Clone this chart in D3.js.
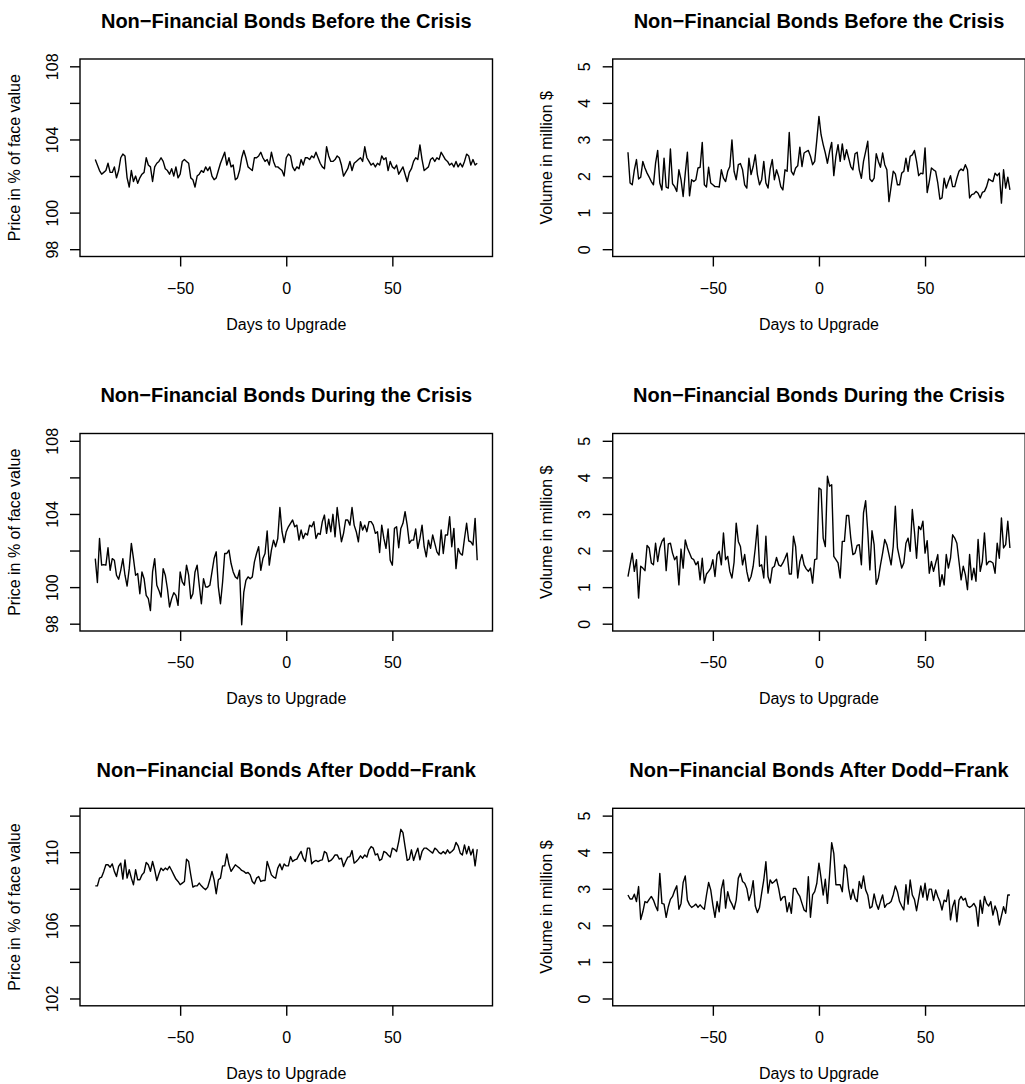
<!DOCTYPE html>
<html>
<head>
<meta charset="utf-8">
<script src="https://cdn.jsdelivr.net/npm/d3@7"></script>
<style>
  body { margin: 0; background: #fff; }
  svg { display: block; }
  text { font-family: "Liberation Sans", Arial, Helvetica, sans-serif; fill: #000; }
</style>
</head>
<body>
<svg width="1025" height="1084"></svg>
<script>
// days relative to the upgrade
const days = d3.range(-90, 91);

// price, before the crisis
const priceBefore = [
  102.9, 102.6, 102.3, 102.1, 102.2, 102.3, 102.7, 102.2, 102.2, 102.5,
  101.9, 102.3, 103.0, 103.2, 103.1, 101.9, 101.4, 102.3, 101.7, 102.0,
  101.6, 101.9, 102.1, 102.2, 103.0, 102.6, 102.5, 101.7, 102.5, 102.7,
  102.8, 103.0, 102.8, 102.4, 102.3, 102.1, 102.4, 102.0, 102.5, 101.9,
  102.1, 102.8, 102.9, 102.8, 102.7, 101.9, 101.8, 101.4, 102.0, 102.1,
  102.3, 102.2, 102.5, 102.3, 102.5, 102.0, 101.8, 101.9, 102.3, 102.7,
  103.0, 103.3, 102.6, 103.0, 102.5, 102.6, 101.8, 101.9, 102.3, 103.0,
  103.4, 103.0, 102.5, 102.4, 102.3, 103.0, 103.0, 103.1, 103.3, 103.0,
  102.8, 102.9, 102.6, 103.3, 102.8, 102.5, 102.5, 102.4, 102.3, 102.0,
  103.0, 103.2, 103.1, 102.5, 102.3, 102.5, 102.4, 102.9, 102.6, 103.0,
  103.0, 102.9, 103.1, 103.0, 103.3, 103.0, 102.7, 102.5, 102.4, 103.6,
  103.1, 102.8, 102.8, 102.9, 103.1, 103.0, 102.6, 102.0, 102.2, 102.4,
  102.8, 102.3, 102.7, 102.8, 102.9, 103.0, 102.8, 103.6, 103.0, 102.8,
  102.6, 102.7, 102.5, 102.7, 102.6, 103.1, 102.9, 103.0, 102.3, 102.8,
  102.5, 102.4, 102.6, 102.1, 102.3, 102.5, 102.1, 101.7, 102.2, 102.4,
  102.8, 103.0, 102.9, 103.7, 102.9, 102.3, 102.4, 102.5, 102.9, 103.0,
  102.8, 103.0, 102.9, 103.3, 103.1, 102.9, 102.8, 102.6, 102.7, 102.5,
  102.8, 102.5, 102.7, 102.5, 102.8, 103.2, 103.1, 102.6, 102.9, 102.6, 102.7
];

// volume, before the crisis
const volBefore = [
  2.65, 1.81, 1.76, 2.17, 2.45, 1.92, 1.97, 2.40, 2.22, 2.08,
  1.97, 1.85, 1.76, 2.35, 2.70, 1.81, 1.62, 2.49, 1.70, 1.67,
  2.74, 1.79, 1.71, 1.58, 2.17, 1.90, 1.44, 2.08, 2.65, 1.46,
  1.90, 1.85, 1.90, 2.22, 2.24, 2.92, 1.76, 1.70, 2.24, 1.81,
  1.76, 1.71, 1.71, 1.70, 2.17, 1.94, 1.85, 2.13, 2.26, 2.99,
  2.13, 1.90, 2.31, 2.34, 2.17, 1.76, 1.67, 2.49, 2.04, 2.26,
  2.58, 2.04, 1.76, 1.90, 2.40, 1.81, 1.67, 2.19, 2.45, 1.90,
  2.17, 1.99, 1.71, 1.62, 2.17, 2.13, 3.19, 2.13, 2.03, 2.22,
  2.28, 2.79, 2.26, 2.63, 2.67, 2.70, 2.54, 2.31, 2.40, 2.99,
  3.63, 3.13, 2.86, 2.63, 2.35, 2.67, 2.92, 2.01, 2.54, 2.86,
  2.40, 2.88, 2.45, 2.72, 2.49, 2.26, 2.17, 2.61, 2.65, 2.17,
  1.94, 2.40, 2.67, 2.95, 1.92, 1.85, 1.94, 2.61, 2.40, 2.24,
  2.63, 2.31, 2.17, 1.30, 1.71, 2.13, 2.06, 1.76, 1.76, 2.08,
  2.13, 2.49, 2.13, 2.54, 2.58, 2.70, 2.40, 2.01, 2.08, 2.06,
  2.77, 1.55, 1.85, 2.22, 2.17, 2.13, 1.81, 1.37, 1.40, 1.94,
  1.67, 1.85, 2.01, 1.71, 1.71, 1.94, 2.13, 2.19, 2.15, 2.31,
  2.17, 1.40, 1.49, 1.51, 1.58, 1.53, 1.40, 1.55, 1.58, 1.71,
  1.92, 1.88, 1.85, 2.08, 2.01, 2.08, 1.26, 2.17, 1.67, 1.97, 1.62
];

// price, during the crisis
const priceDuring = [
  101.56, 100.25, 102.66, 101.20, 101.23, 101.20, 102.15, 100.92, 101.56, 101.47,
  100.65, 100.43, 100.92, 101.56, 100.65, 100.06, 101.01, 102.39, 101.56, 100.65,
  100.74, 99.64, 100.83, 100.46, 99.55, 99.37, 98.72, 100.83, 101.56, 100.10,
  99.82, 99.46, 101.01, 100.65, 99.91, 98.91, 99.37, 99.69, 99.55, 99.00,
  100.83, 100.28, 100.10, 101.20, 100.65, 99.37, 99.64, 100.83, 101.20, 100.10,
  99.09, 100.46, 100.01, 100.01, 100.10, 100.83, 101.56, 101.93, 100.01, 99.09,
  100.28, 101.84, 101.84, 102.02, 101.29, 100.83, 100.56, 100.46, 100.92, 97.94,
  99.73, 100.37, 100.56, 100.46, 100.56, 101.38, 101.84, 102.21, 100.92, 101.56,
  101.84, 103.07, 101.20, 102.02, 102.57, 102.21, 102.66, 104.35, 103.03, 102.44,
  103.03, 103.30, 103.49, 103.67, 103.30, 103.39, 102.57, 103.12, 102.66, 102.94,
  102.85, 103.39, 103.30, 103.58, 102.66, 102.94, 102.88, 103.58, 103.94, 102.94,
  103.72, 103.03, 103.98, 102.75, 104.35, 103.39, 102.48, 102.94, 103.67, 103.67,
  103.39, 104.35, 103.39, 103.03, 102.48, 103.58, 103.12, 103.39, 103.03, 103.58,
  103.58, 103.39, 102.94, 103.03, 101.89, 103.39, 102.66, 102.12, 103.18, 101.47,
  101.20, 103.21, 103.30, 102.15, 103.21, 103.49, 104.13, 103.39, 102.39, 102.57,
  102.57, 103.18, 102.12, 102.66, 103.39, 102.21, 101.66, 102.57, 102.12, 102.85,
  102.39, 101.93, 101.75, 103.12, 101.84, 102.85, 102.85, 103.85, 102.21, 103.21,
  101.01, 102.12, 101.84, 101.75, 102.66, 103.49, 102.52, 102.48, 102.30, 103.76, 101.47
];

// volume, during the crisis
const volDuring = [
  1.29, 1.61, 1.93, 1.43, 1.75, 0.70, 1.57, 1.52, 1.45, 2.14,
  2.07, 1.66, 1.61, 2.20, 1.70, 2.07, 2.25, 2.34, 1.45, 2.18,
  2.20, 1.93, 1.75, 1.84, 1.06, 2.04, 1.52, 2.29, 2.07, 1.93,
  1.79, 1.75, 1.61, 1.70, 1.20, 1.79, 1.11, 1.36, 1.43, 1.52,
  1.75, 1.29, 1.89, 1.98, 1.61, 2.48, 1.75, 1.84, 1.43, 1.25,
  1.68, 2.75, 2.25, 2.11, 1.61, 1.89, 1.43, 1.16, 1.29, 1.57,
  2.07, 2.69, 1.57, 1.61, 1.25, 2.39, 1.29, 1.11, 1.52, 1.57,
  1.81, 1.61, 1.57, 1.66, 1.79, 1.93, 1.36, 1.36, 2.39, 2.11,
  1.25, 1.70, 1.89, 1.61, 1.50, 1.43, 1.52, 1.11, 1.75, 1.77,
  3.71, 3.67, 2.34, 2.11, 4.03, 3.76, 3.80, 1.84, 1.75, 1.66,
  1.25, 2.25, 2.25, 2.96, 2.96, 2.34, 1.89, 1.93, 2.14, 2.16,
  1.61, 3.03, 3.36, 2.52, 1.47, 2.54, 2.16, 1.08, 1.25, 1.61,
  1.93, 2.30, 2.16, 1.89, 1.61, 2.11, 3.21, 2.07, 1.79, 1.52,
  1.66, 2.20, 2.34, 1.98, 3.12, 2.52, 1.79, 2.66, 2.57, 2.80,
  1.93, 2.27, 1.38, 1.70, 1.43, 1.66, 1.89, 1.02, 1.34, 1.06,
  1.89, 1.52, 1.79, 2.43, 2.34, 2.20, 1.70, 1.20, 1.57, 1.34,
  0.93, 1.89, 1.20, 1.52, 1.16, 2.30, 1.43, 1.70, 2.48, 1.61,
  1.70, 1.70, 1.66, 1.38, 2.20, 1.79, 2.89, 2.07, 2.16, 2.80, 2.07
];

// price, after Dodd-Frank
const priceAfter = [
  108.16, 108.16, 108.58, 108.64, 108.95, 109.31, 109.31, 109.18, 109.36, 108.95,
  108.67, 109.22, 109.40, 108.53, 109.58, 108.58, 109.04, 108.58, 108.22, 109.04,
  108.49, 108.49, 108.76, 108.89, 109.44, 109.31, 108.95, 109.49, 109.04, 108.45,
  108.82, 109.13, 109.00, 109.13, 109.04, 109.22, 109.00, 108.76, 108.53, 108.40,
  108.22, 108.31, 108.40, 109.62, 109.49, 108.76, 108.09, 108.16, 108.16, 108.31,
  108.16, 108.04, 107.95, 108.09, 108.49, 108.95, 108.49, 107.73, 108.49, 108.58,
  109.25, 109.25, 109.91, 109.31, 108.95, 109.13, 109.31, 109.22, 109.13, 109.00,
  108.95, 108.85, 108.89, 108.76, 108.40, 108.27, 108.58, 108.67, 108.40, 108.45,
  108.45, 109.49, 109.13, 108.76, 108.64, 108.58, 109.13, 109.36, 109.04, 109.36,
  109.25, 109.25, 109.76, 109.49, 109.58, 109.62, 109.85, 110.04, 109.67, 109.49,
  110.22, 110.22, 109.36, 109.49, 109.55, 109.49, 109.55, 109.58, 110.04, 109.95,
  109.49, 109.55, 109.67, 109.85, 109.85, 109.62, 109.67, 109.22, 109.49, 109.73,
  109.76, 110.09, 109.40, 109.49, 109.62, 109.80, 109.67, 109.85, 109.73, 110.13,
  110.31, 110.22, 109.85, 109.91, 109.55, 109.62, 110.04, 109.98, 109.85, 109.73,
  110.22, 110.16, 110.04, 110.58, 111.25, 111.07, 110.31, 109.55, 109.62, 110.13,
  109.55, 109.91, 110.22, 109.58, 110.04, 110.22, 110.22, 110.13, 110.04, 109.95,
  110.22, 110.13, 109.98, 109.91, 110.04, 109.91, 110.13, 109.95, 110.04, 110.16,
  110.53, 110.35, 109.95, 109.85, 110.40, 109.91, 110.31, 109.85, 110.16, 109.25, 110.16
];

// volume, after Dodd-Frank
const volAfter = [
  2.83, 2.72, 2.72, 2.85, 2.65, 3.06, 2.16, 2.37, 2.65, 2.62,
  2.71, 2.79, 2.69, 2.53, 2.40, 3.42, 2.60, 2.58, 2.22, 2.51,
  2.71, 2.79, 2.95, 3.08, 2.44, 2.60, 3.17, 3.35, 2.69, 2.56,
  2.49, 2.53, 2.58, 2.49, 2.56, 2.49, 2.44, 2.83, 3.17, 2.97,
  2.56, 2.22, 2.65, 2.37, 2.99, 3.24, 2.47, 2.92, 2.69, 2.58,
  2.44, 2.69, 3.29, 3.42, 3.20, 3.15, 3.01, 2.68, 2.86, 3.22,
  2.53, 2.35, 2.49, 2.88, 3.24, 3.74, 2.88, 3.24, 3.15, 3.20,
  3.26, 3.01, 2.68, 2.77, 2.79, 2.37, 2.62, 2.33, 3.01, 3.01,
  2.88, 2.79, 2.60, 2.42, 2.37, 3.33, 2.22, 2.83, 2.92, 3.15,
  3.70, 3.29, 2.83, 3.26, 2.60, 3.38, 4.26, 3.97, 3.11, 3.11,
  3.11, 2.92, 3.65, 3.56, 3.01, 2.71, 2.99, 2.74, 2.65, 3.20,
  3.01, 3.35, 2.97, 2.83, 2.47, 2.51, 2.86, 2.60, 2.44, 2.65,
  2.83, 2.49, 2.58, 2.60, 2.65, 2.83, 3.08, 2.92, 2.65, 2.53,
  2.42, 3.11, 2.58, 3.24, 2.83, 2.71, 2.40, 2.74, 3.08, 2.77,
  3.15, 2.69, 2.99, 2.99, 2.68, 2.97, 2.79, 2.65, 2.42, 2.69,
  2.65, 2.97, 2.15, 2.51, 2.69, 2.10, 2.69, 2.79, 2.69, 2.74,
  2.53, 2.49, 2.53, 2.60, 2.49, 1.98, 2.69, 2.33, 2.79, 2.60,
  2.53, 2.65, 2.28, 2.53, 2.37, 2.01, 2.26, 2.51, 2.33, 2.83, 2.83
];

const periods = ["Before the Crisis", "During the Crisis", "After Dodd\u2212Frank"];
const dayTicks = [-50, 0, 50];
const priceTicksEarly = [98, 100, 102, 104, 106, 108];
const priceLabelsEarly = [98, 100, 104, 108];
const priceTicksLate = [102, 104, 106, 108, 110, 112];
const priceLabelsLate = [102, 106, 110];
const volTicks = [0, 1, 2, 3, 4, 5];

const svg = d3.select("svg");

const colLeft = [80, 612.7];
const plotW = 412.5;
const rowTop = [59, 433.5, 808.3];
const plotH = 197.5;

// R pads the axis limits by 4%
function pad(lo, hi) {
  const d = (hi - lo) * 0.04;
  return [lo - d, hi + d];
}

const panels = [
  { row: 0, col: 0, values: priceBefore, lim: [98, 108], ticks: priceTicksEarly, labels: priceLabelsEarly, ylab: "Price in % of face value" },
  { row: 0, col: 1, values: volBefore, lim: [0, 5], ticks: volTicks, labels: volTicks, ylab: "Volume in million $" },
  { row: 1, col: 0, values: priceDuring, lim: [98, 108], ticks: priceTicksEarly, labels: priceLabelsEarly, ylab: "Price in % of face value" },
  { row: 1, col: 1, values: volDuring, lim: [0, 5], ticks: volTicks, labels: volTicks, ylab: "Volume in million $" },
  { row: 2, col: 0, values: priceAfter, lim: [102, 112], ticks: priceTicksLate, labels: priceLabelsLate, ylab: "Price in % of face value" },
  { row: 2, col: 1, values: volAfter, lim: [0, 5], ticks: volTicks, labels: volTicks, ylab: "Volume in million $" }
];

panels.forEach(p => {
  const left = colLeft[p.col], top = rowTop[p.row];
  const x = d3.scaleLinear().domain(pad(-90, 90)).range([left, left + plotW]);
  const y = d3.scaleLinear().domain(pad(p.lim[0], p.lim[1])).range([top + plotH, top]);
  const cx = left + plotW / 2;

  const g = svg.append("g");

  // data line
  const line = d3.line().x((d, i) => x(days[i])).y(d => y(d));
  g.append("path")
    .datum(p.values)
    .attr("d", line)
    .attr("fill", "none")
    .attr("stroke", "#000")
    .attr("stroke-width", 1.4)
    .attr("stroke-linejoin", "round");

  // box
  g.append("rect")
    .attr("x", left).attr("y", top)
    .attr("width", plotW).attr("height", plotH)
    .attr("fill", "none").attr("stroke", "#000").attr("stroke-width", 1.4);

  // x axis
  const xa = g.append("g")
    .attr("transform", `translate(0,${top + plotH})`)
    .call(d3.axisBottom(x).tickValues(dayTicks).tickSize(10).tickSizeOuter(0));
  xa.select(".domain").remove();
  xa.selectAll(".tick line").attr("stroke-width", 1.4);
  xa.selectAll(".tick text")
    .attr("y", 37.3).attr("dy", null)
    .style("font-size", "16px");

  // y axis
  const ya = g.append("g")
    .attr("transform", `translate(${left},0)`)
    .call(d3.axisLeft(y).tickValues(p.ticks).tickSize(10).tickSizeOuter(0)
      .tickFormat(d => p.labels.includes(d) ? d : ""));
  ya.select(".domain").remove();
  ya.selectAll(".tick line").attr("stroke-width", 1.4);
  ya.selectAll(".tick text")
    .attr("x", null).attr("dy", null)
    .attr("text-anchor", "middle")
    .attr("transform", "translate(-22.5,0) rotate(-90)")
    .style("font-size", "16px");

  // axis titles
  g.append("text")
    .attr("x", cx).attr("y", top + plotH + 73.3)
    .attr("text-anchor", "middle")
    .style("font-size", "16px")
    .text("Days to Upgrade");

  g.append("text")
    .attr("transform", `translate(${left - 60.5},${top + plotH / 2}) rotate(-90)`)
    .attr("text-anchor", "middle")
    .style("font-size", "16px")
    .text(p.ylab);

  // main title
  g.append("text")
    .attr("x", cx).attr("y", top - 31.5)
    .attr("text-anchor", "middle")
    .style("font-size", "20px")
    .style("font-weight", "bold")
    .text("Non\u2212Financial Bonds " + periods[p.row]);
});
</script>
</body>
</html>
